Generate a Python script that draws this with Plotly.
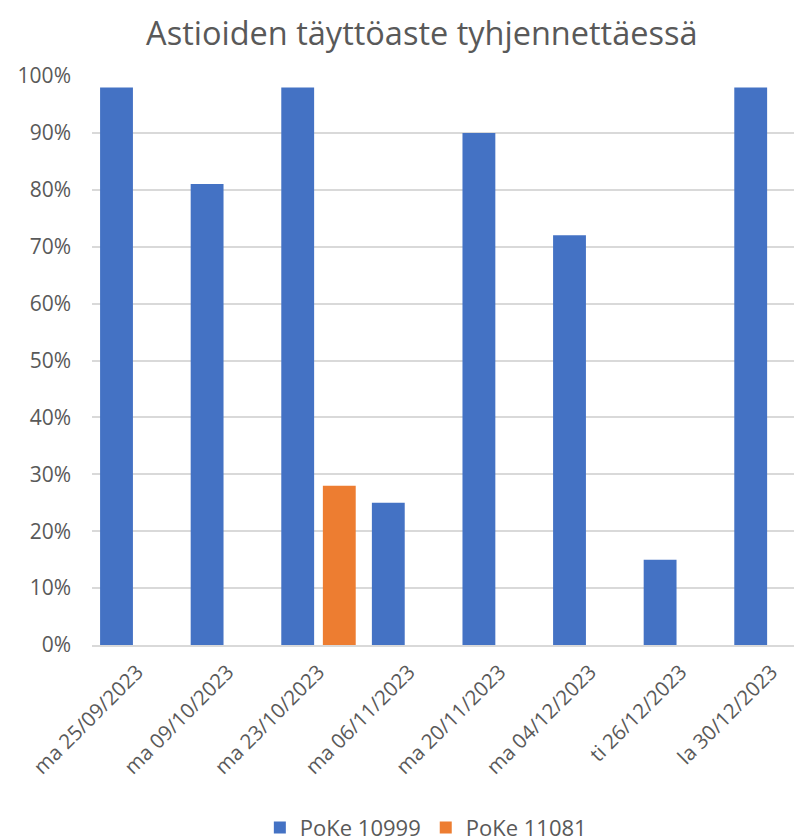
import plotly.graph_objects as go

# ---------------------------------------
# DATA
# ---------------------------------------
dates = [
    "ma 25/09/2023", "ma 09/10/2023", "ma 23/10/2023", "ma 06/11/2023",
    "ma 20/11/2023", "ma 04/12/2023", "ti 26/12/2023", "la 30/12/2023",
]
poke_10999 = [0.98, 0.81, 0.98, 0.25, 0.90, 0.72, 0.15, 0.98]
poke_11081 = [None, None, 0.28, None, None, None, None, None]
y_ticks = [i / 10 for i in range(11)]

FONT = "Open Sans"
TXT = "#595959"
GRID = "#D9D9D9"

fig = go.Figure()

fig.add_trace(go.Bar(x=dates, y=poke_10999, name="PoKe 10999",
                     marker=dict(color="#4472C4", line=dict(width=0))))
fig.add_trace(go.Bar(x=dates, y=poke_11081, name="PoKe 11081",
                     marker=dict(color="#ED7D31", line=dict(width=0))))

# the page body adds an 8px offset, so margins are shifted to compensate
fig.update_layout(
    width=802, height=839,
    margin=dict(l=84, r=0, t=68, b=202, autoexpand=False),
    plot_bgcolor="white", paper_bgcolor="white",
    font=dict(family=FONT, color=TXT, size=21),
    barmode="group", bargap=0.082, bargroupgap=0.21,
    title=dict(text="Astioiden täyttöaste tyhjennettäessä",
               x=0.516, xanchor="center", y=0.970, yanchor="middle",
               font=dict(size=32.5, color=TXT, family=FONT)),
    xaxis=dict(
        range=[-0.5, 7.425], tickangle=-45, showgrid=False,
        showline=True, linecolor=GRID, linewidth=1.5, automargin=False,
        ticks="", ticklabelstandoff=5, tickfont=dict(size=20.5),
    ),
    yaxis=dict(
        range=[0, 1], tickvals=y_ticks, tickformat=".0%",
        showgrid=True, gridcolor=GRID, gridwidth=1.5, automargin=False,
        zeroline=False, showline=False, ticks="",
        ticklabelstandoff=20, tickfont=dict(size=21),
    ),
    legend=dict(orientation="h", xref="container", yref="container",
                x=0.521, xanchor="center", y=0.023, yanchor="middle",
                font=dict(size=22), itemwidth=30, traceorder="normal"),
)

fig.write_html("out.html")
